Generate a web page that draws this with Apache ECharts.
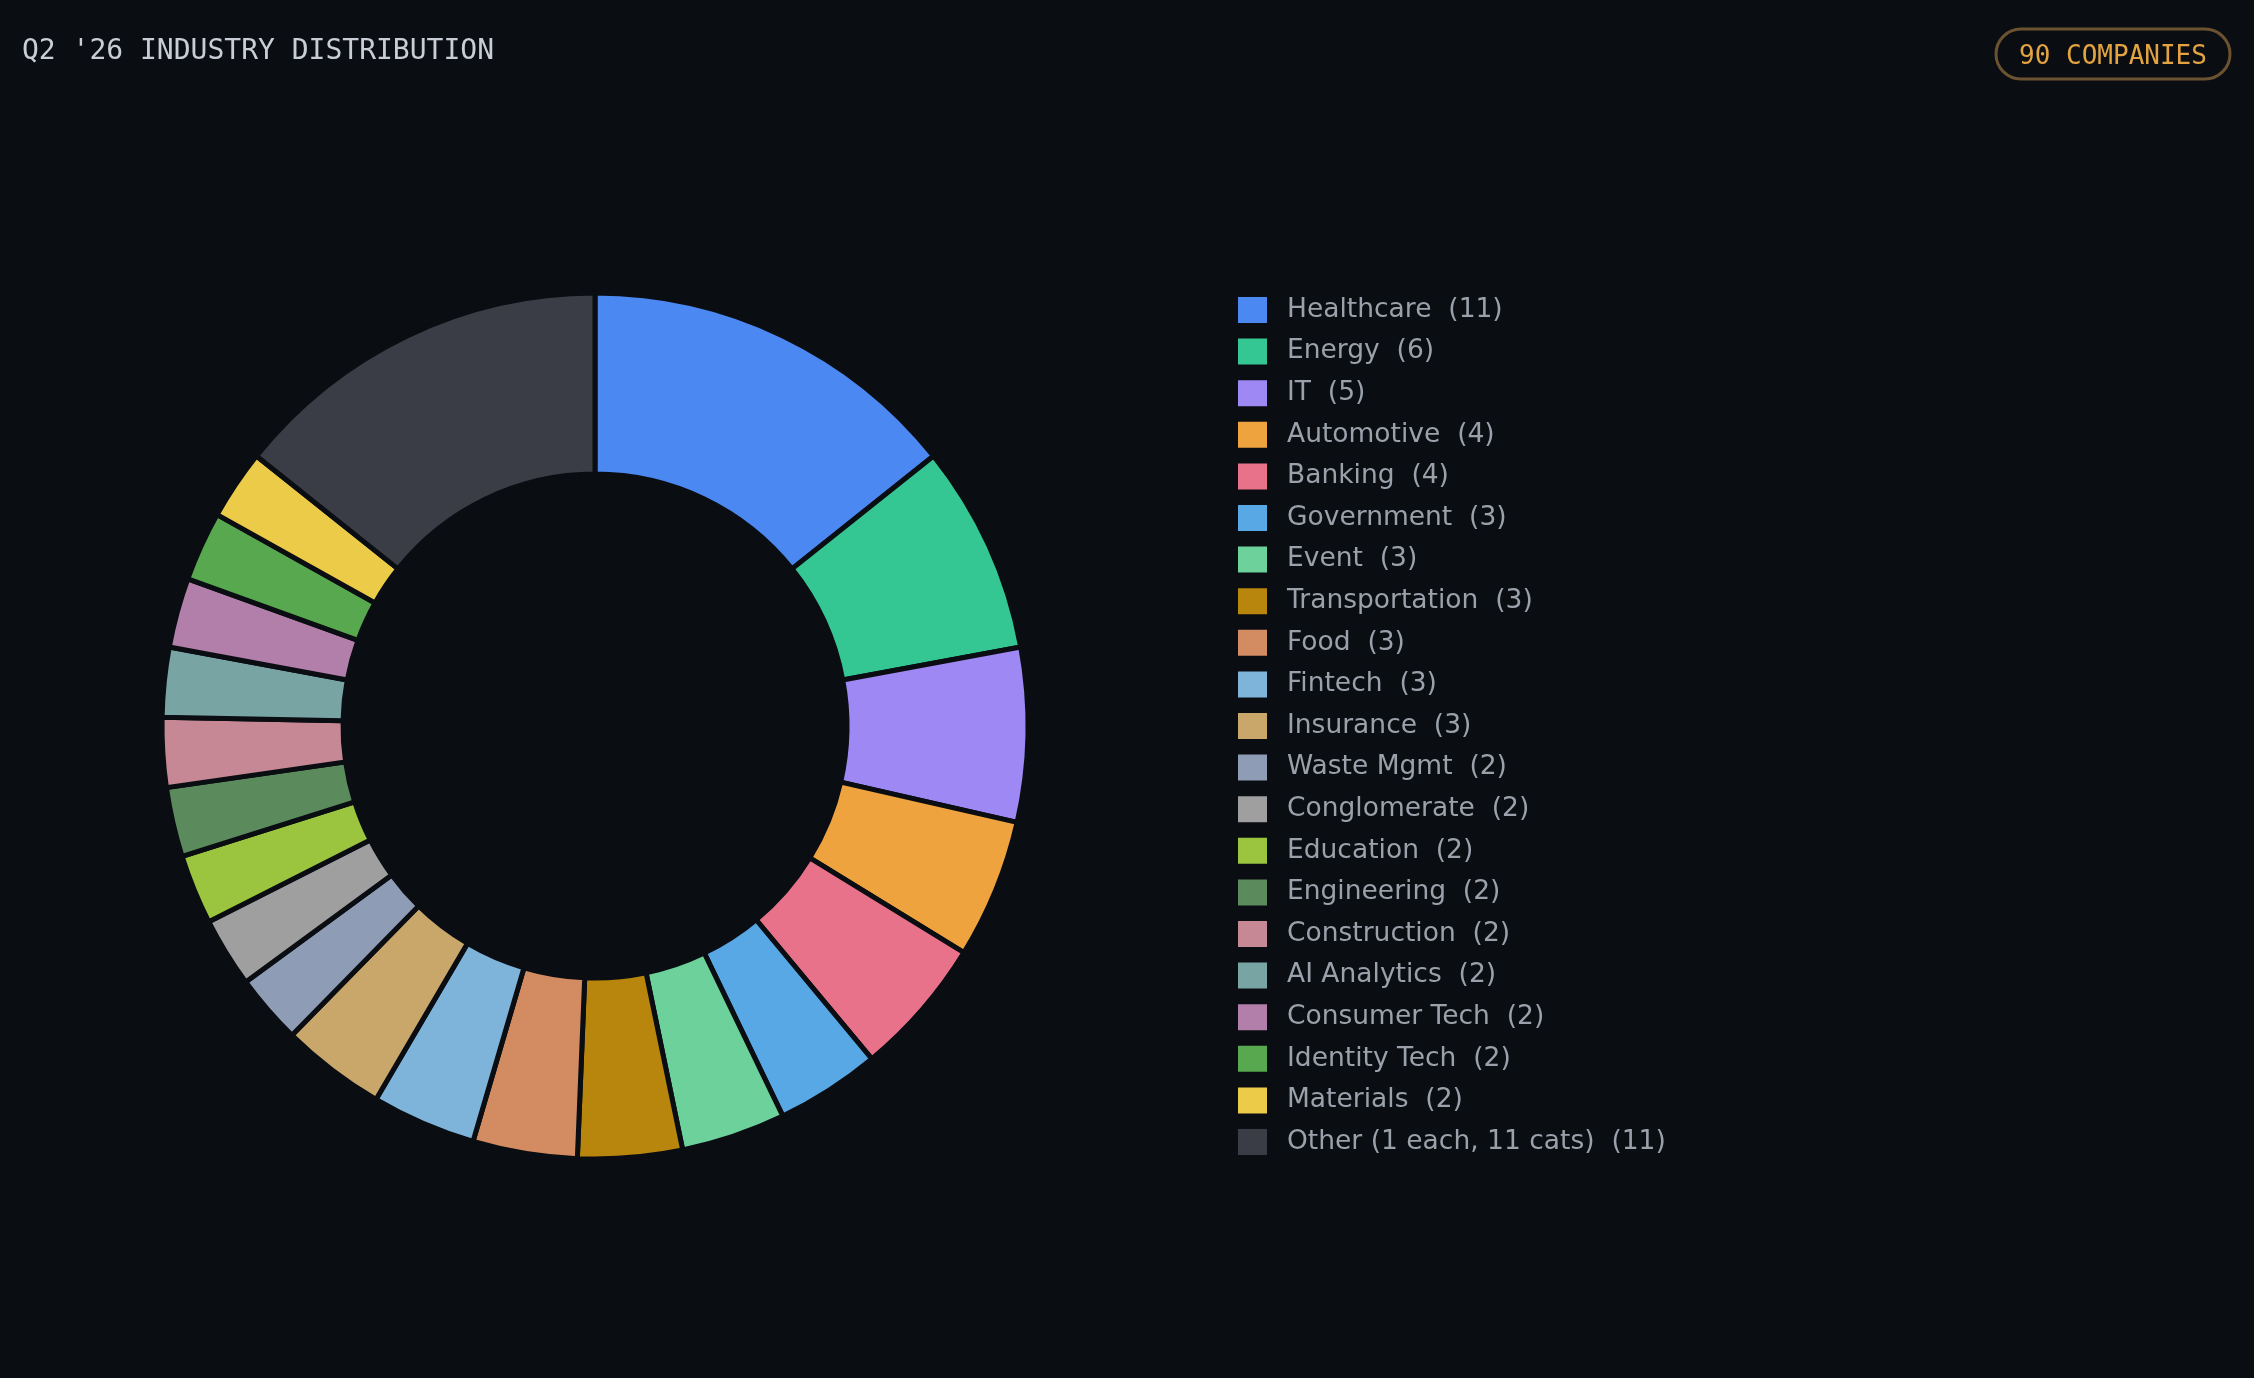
<!DOCTYPE html>
<html>
<head>
<meta charset="utf-8">
<script src="https://cdn.jsdelivr.net/npm/echarts@6/dist/echarts.min.js"></script>
<style>
  html, body { margin: 0; padding: 0; background: #0a0d12; }
  #chart { width: 2254px; height: 1378px; }
</style>
</head>
<body>
<div id="chart"></div>
<script>
const industries = ["Healthcare", "Energy", "IT", "Automotive", "Banking", "Government", "Event",
  "Transportation", "Food", "Fintech", "Insurance", "Waste Mgmt", "Conglomerate", "Education",
  "Engineering", "Construction", "AI Analytics", "Consumer Tech", "Identity Tech", "Materials",
  "Other (1 each, 11 cats)"]
const counts = [11, 6, 5, 4, 4, 3, 3, 3, 3, 3, 3, 2, 2, 2, 2, 2, 2, 2, 2, 2, 11]
const colors = ["#4b88f2", "#34c693", "#9e88f3", "#eea33f", "#e8728a", "#58a8e6", "#6dd19b",
  "#b8860d", "#d38c62", "#7fb4da", "#c9a66a", "#8f9cb6", "#9f9f9f", "#9bc53f", "#5b8b5c",
  "#c68894", "#79a4a4", "#b17fa9", "#58a84f", "#eccb48", "#3a3d45"]
const totalCompanies = 90

const bg = "#0a0d12"
const countOf = industries.reduce((acc, name, i) => { acc[name] = counts[i]; return acc }, {})

const pieData = industries.map((name, i) => ({
  name: name,
  value: counts[i],
  itemStyle: { color: colors[i] }
}))

const chart = echarts.init(document.getElementById('chart'), null, { renderer: 'canvas' })

chart.setOption({
  backgroundColor: bg,
  animation: false,
  title: {
    text: "Q2 '26 INDUSTRY DISTRIBUTION",
    left: 22,
    top: 38,
    padding: 0,
    textStyle: { fontFamily: 'DejaVu Sans Mono', fontSize: 28, fontWeight: 'normal', color: '#c9ced6' }
  },
  legend: {
    orient: 'vertical',
    left: 1236,
    top: 295,
    padding: 0,
    icon: 'rect',
    itemWidth: 31,
    itemHeight: 28,
    itemGap: 11.6,
    selectedMode: false,
    formatter: (name) => `${name}  (${countOf[name]})`,
    textStyle: { fontFamily: 'DejaVu Sans', fontSize: 26.5, lineHeight: 28, color: '#9aa1aa', padding: [0, 0, 0, 14] }
  },
  graphic: [{
    type: 'group',
    children: [{
      type: 'rect',
      shape: { x: 1996, y: 29, width: 234, height: 50, r: 25 },
      style: { fill: 'transparent', stroke: '#6b5230', lineWidth: 3 }
    }, {
      type: 'text',
      x: 2113,
      y: 57,
      style: {
        text: `${totalCompanies} COMPANIES`,
        fill: '#e3a341',
        font: '26px "DejaVu Sans Mono"',
        align: 'center',
        verticalAlign: 'middle'
      }
    }]
  }],
  series: [{
    type: 'pie',
    center: [595, 726],
    radius: [252, 433],
    startAngle: 90,
    clockwise: true,
    label: { show: false },
    labelLine: { show: false },
    emphasis: { disabled: true },
    itemStyle: { borderColor: bg, borderWidth: 5 },
    data: pieData
  }]
})
</script>
</body>
</html>
